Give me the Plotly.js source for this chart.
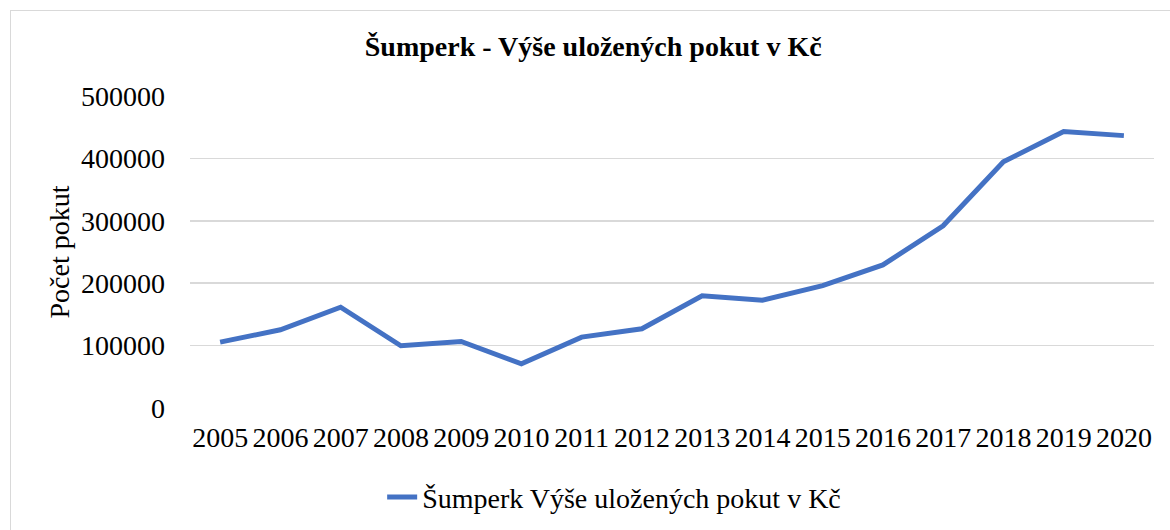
<!DOCTYPE html>
<html><head><meta charset="utf-8">
<script src="https://cdn.plot.ly/plotly-3.0.1.min.js"></script>
<style>
html,body{margin:0;padding:0;background:#fff;}
#chart{width:1170px;height:530px;}
#frame{position:absolute;left:10px;top:10px;width:1175px;height:530px;border:1px solid #d9d9d9;pointer-events:none;}
</style></head>
<body>
<div id="chart"></div>
<div id="frame"></div>
<script>
const years = ['2005','2006','2007','2008','2009','2010','2011','2012','2013','2014','2015','2016','2017','2018','2019','2020'];
const fines = [105600,125300,161600,99700,106600,70900,113600,126900,179700,172800,196200,229300,292000,394400,443000,436500];
const seriesName = 'Šumperk Výše uložených pokut v Kč';
const chartTitle = 'Šumperk - Výše uložených pokut v Kč';
const yTitle = 'Počet pokut';
const yTicks = [0,100000,200000,300000,400000,500000];

const font = "Times New Roman";
Plotly.newPlot('chart', [{
  x: years, y: fines, type: 'scatter', mode: 'lines', name: seriesName,
  line: {color: '#4472C4', width: 5}
}], {
  width: 1170, height: 530,
  margin: {l: 190, r: 16, t: 96, b: 122, autoexpand: false},
  paper_bgcolor: '#fff', plot_bgcolor: '#fff',
  title: {text: '<b>' + chartTitle + '</b>', font: {family: font, size: 28, color: '#000'}, x: 0.507, xanchor: 'center', y: 0.912, yanchor: 'middle'},
  xaxis: {type: 'category', automargin: false, range: [-0.5, 15.5], tickfont: {family: font, size: 28, color: '#000'}, showgrid: false, showline: false, zeroline: false, ticks: '', ticklabelstandoff: 10},
  yaxis: {automargin: false, range: [0, 500000], tickvals: yTicks, ticktext: yTicks.map(String), tickfont: {family: font, size: 28, color: '#000'},
    gridcolor: '#d9d9d9', gridwidth: 1.5, zeroline: false, showline: false, ticks: '', ticklabelstandoff: 24,
    title: {text: yTitle, font: {family: font, size: 28, color: '#000'}, standoff: 3}},
  showlegend: true,
  legend: {orientation: 'h', x: 0.44, xanchor: 'center', y: -0.286, yanchor: 'middle', font: {family: font, size: 28, color: '#000'}}
}, {displayModeBar: false, staticPlot: true});
</script>
</body></html>
